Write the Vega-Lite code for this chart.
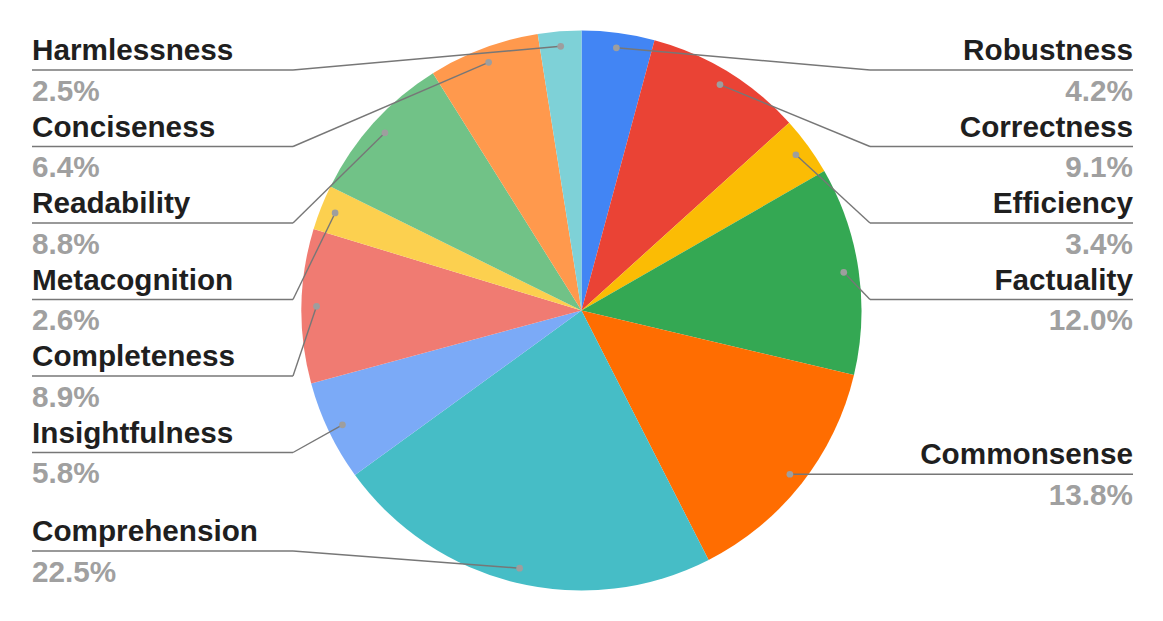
{
  "$schema": "https://vega.github.io/schema/vega-lite/v6.json",
  "width": 1163,
  "height": 621,
  "autosize": {"type": "fit", "contains": "padding"},
  "padding": 0,
  "background": "white",
  "config": {"view": {"stroke": null}, "text": {"font": "Liberation Sans"}},
  "data": {
    "values": [
      {"name": "Robustness", "value": 4.2},
      {"name": "Correctness", "value": 9.1},
      {"name": "Efficiency", "value": 3.4},
      {"name": "Factuality", "value": 12.0},
      {"name": "Commonsense", "value": 13.8},
      {"name": "Comprehension", "value": 22.5},
      {"name": "Insightfulness", "value": 5.8},
      {"name": "Completeness", "value": 8.9},
      {"name": "Metacognition", "value": 2.6},
      {"name": "Readability", "value": 8.8},
      {"name": "Conciseness", "value": 6.4},
      {"name": "Harmlessness", "value": 2.5}
    ]
  },
  "transform": [
    {"window": [{"op": "sum", "field": "value", "as": "cum"}, {"op": "row_number", "as": "idx"}], "frame": [null, 0]},
    {"calculate": "2*PI*(datum.cum - datum.value/2)/100", "as": "mid"},
    {"calculate": "581.5 + 265*sin(datum.mid)", "as": "dotx"},
    {"calculate": "310.5 - 265*cos(datum.mid)", "as": "doty"},
    {"calculate": "datum.mid < PI ? 'right' : 'left'", "as": "side"},
    {"calculate": "datum.side === 'right' ? datum.mid : -datum.mid", "as": "sortkey"},
    {"window": [{"op": "row_number", "as": "slot"}], "groupby": ["side"], "sort": [{"field": "sortkey", "order": "ascending"}]},
    {"calculate": "min(551, max(70 + 76.5*(datum.slot-1), datum.doty))", "as": "liney"},
    {"calculate": "datum.side === 'right' ? 870 : 293", "as": "elbowx"},
    {"calculate": "datum.side === 'right' ? 1133 : 32", "as": "labelx"},
    {"calculate": "format(datum.value, '.1f') + '%'", "as": "pct"}
  ],
  "layer": [
    {
      "mark": {"type": "arc", "outerRadius": 280},
      "encoding": {
        "theta": {"field": "value", "type": "quantitative", "stack": true},
        "order": {"field": "idx", "type": "quantitative"},
        "color": {
          "field": "name",
          "type": "nominal",
          "legend": null,
          "scale": {
            "domain": ["Robustness", "Correctness", "Efficiency", "Factuality", "Commonsense", "Comprehension", "Insightfulness", "Completeness", "Metacognition", "Readability", "Conciseness", "Harmlessness"],
            "range": ["#4285F4", "#EA4335", "#FBBC04", "#34A853", "#FF6D01", "#46BDC6", "#7BAAF7", "#F07B72", "#FCD04F", "#71C287", "#FF994D", "#7ED1D7"]
          }
        }
      }
    },
    {
      "mark": {"type": "rule", "color": "#777777", "strokeWidth": 1.4},
      "encoding": {
        "x": {"field": "dotx", "type": "quantitative", "scale": {"domain": [0, 1163], "nice": false, "zero": false}, "axis": null},
        "y": {"field": "doty", "type": "quantitative", "scale": {"domain": [621, 0], "nice": false, "zero": false}, "axis": null},
        "x2": {"field": "elbowx"},
        "y2": {"field": "liney"}
      }
    },
    {
      "mark": {"type": "rule", "color": "#777777", "strokeWidth": 1.4},
      "encoding": {
        "x": {"field": "elbowx", "type": "quantitative", "scale": {"domain": [0, 1163], "nice": false, "zero": false}, "axis": null},
        "y": {"field": "liney", "type": "quantitative", "scale": {"domain": [621, 0], "nice": false, "zero": false}, "axis": null},
        "x2": {"field": "labelx"}
      }
    },
    {
      "mark": {"type": "point", "filled": true, "color": "#9e9e9e", "size": 45, "opacity": 1},
      "encoding": {
        "x": {"field": "dotx", "type": "quantitative", "scale": {"domain": [0, 1163], "nice": false, "zero": false}, "axis": null},
        "y": {"field": "doty", "type": "quantitative", "scale": {"domain": [621, 0], "nice": false, "zero": false}, "axis": null}
      }
    },
    {
      "transform": [{"filter": "datum.side === 'right'"}],
      "mark": {"type": "text", "align": "right", "baseline": "alphabetic", "dy": -10, "fontSize": 29.7, "fontWeight": "bold", "color": "#1f1f1f"},
      "encoding": {
        "x": {"field": "labelx", "type": "quantitative", "scale": {"domain": [0, 1163], "nice": false, "zero": false}, "axis": null},
        "y": {"field": "liney", "type": "quantitative", "scale": {"domain": [621, 0], "nice": false, "zero": false}, "axis": null},
        "text": {"field": "name"}
      }
    },
    {
      "transform": [{"filter": "datum.side === 'right'"}],
      "mark": {"type": "text", "align": "right", "baseline": "alphabetic", "dy": 30.5, "fontSize": 29.7, "fontWeight": "bold", "color": "#a0a0a0"},
      "encoding": {
        "x": {"field": "labelx", "type": "quantitative", "scale": {"domain": [0, 1163], "nice": false, "zero": false}, "axis": null},
        "y": {"field": "liney", "type": "quantitative", "scale": {"domain": [621, 0], "nice": false, "zero": false}, "axis": null},
        "text": {"field": "pct"}
      }
    },
    {
      "transform": [{"filter": "datum.side === 'left'"}],
      "mark": {"type": "text", "align": "left", "baseline": "alphabetic", "dy": -10, "fontSize": 29.7, "fontWeight": "bold", "color": "#1f1f1f"},
      "encoding": {
        "x": {"field": "labelx", "type": "quantitative", "scale": {"domain": [0, 1163], "nice": false, "zero": false}, "axis": null},
        "y": {"field": "liney", "type": "quantitative", "scale": {"domain": [621, 0], "nice": false, "zero": false}, "axis": null},
        "text": {"field": "name"}
      }
    },
    {
      "transform": [{"filter": "datum.side === 'left'"}],
      "mark": {"type": "text", "align": "left", "baseline": "alphabetic", "dy": 30.5, "fontSize": 29.7, "fontWeight": "bold", "color": "#a0a0a0"},
      "encoding": {
        "x": {"field": "labelx", "type": "quantitative", "scale": {"domain": [0, 1163], "nice": false, "zero": false}, "axis": null},
        "y": {"field": "liney", "type": "quantitative", "scale": {"domain": [621, 0], "nice": false, "zero": false}, "axis": null},
        "text": {"field": "pct"}
      }
    }
  ]
}
